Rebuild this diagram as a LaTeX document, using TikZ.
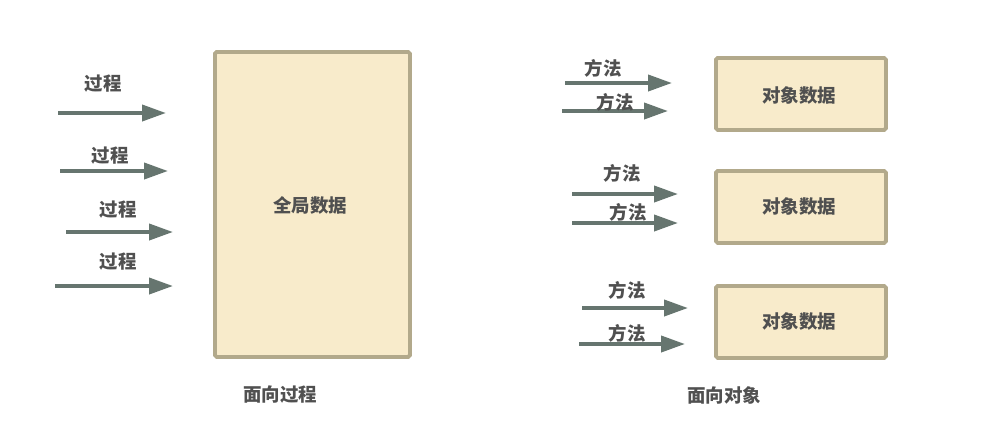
\documentclass[tikz,border=0pt]{standalone}
\usepackage{fontspec}
\newfontfamily\cjk{Noto Sans CJK SC}
\usetikzlibrary{arrows.meta}
\definecolor{boxfill}{HTML}{F8EBCB}
\definecolor{boxline}{HTML}{B2A98B}
\definecolor{arrowgray}{HTML}{66756F}
\definecolor{textgray}{HTML}{505050}
\begin{document}
\begin{tikzpicture}[x=0.02cm,y=-0.02cm,
    every node/.style={font=\cjk\bfseries\fontsize{10.5}{12}\selectfont,text=textgray,inner sep=0pt},
    databox/.style={draw=boxline,fill=boxfill,line width=2.2pt,rounded corners=1pt,anchor=north west}]

        \useasboundingbox (0,0) rectangle (1006,437);

        % 面向过程
        \node[databox,minimum width=195*0.02cm,minimum height=305*0.02cm] (global) at (213,50) {};
        \node (globaltext) at (310,205) {全局数据};
        \node (proccap) at (280,395) {面向过程};

        % 面向对象
        \begin{scope}[every node/.append style={databox,minimum width=170*0.02cm,minimum height=72*0.02cm}]
          \node (obj1) at (714,56)  {};
          \node (obj2) at (714,169) {};
          \node (obj3) at (714,284) {};
        \end{scope}
        \node (objtext1) at (799,95)  {对象数据};
        \node (objtext2) at (799,206) {对象数据};
        \node (objtext3) at (799,321) {对象数据};
        \node (objcap) at (724,395) {面向对象};

        % arrow ends
        \coordinate (p1s) at (58,113);  \coordinate (p1e) at (166,113);
        \coordinate (p2s) at (60,171);  \coordinate (p2e) at (168,171);
        \coordinate (p3s) at (66,232);  \coordinate (p3e) at (173,232);
        \coordinate (p4s) at (55,286);  \coordinate (p4e) at (173,286);
        \coordinate (m1s) at (565,83);  \coordinate (m1e) at (672,83);
        \coordinate (m2s) at (562,111); \coordinate (m2e) at (668,111);
        \coordinate (m3s) at (572,194); \coordinate (m3e) at (678,194);
        \coordinate (m4s) at (572,223); \coordinate (m4e) at (678,223);
        \coordinate (m5s) at (582,308); \coordinate (m5e) at (688,308);
        \coordinate (m6s) at (579,344); \coordinate (m6e) at (685,344);

        \begin{scope}[every edge/.style={draw=arrowgray,line width=2.2pt,-{Triangle[length=0.48cm,width=0.32cm]}}]
          \path (p1s) edge (p1e);
          \path (p2s) edge (p2e);
          \path (p3s) edge (p3e);
          \path (p4s) edge (p4e);
          \path (m1s) edge (m1e);
          \path (m2s) edge (m2e);
          \path (m3s) edge (m3e);
          \path (m4s) edge (m4e);
          \path (m5s) edge (m5e);
          \path (m6s) edge (m6e);
        \end{scope}

        \node (proc1) at (103,84)  {过程};
        \node (proc2) at (110,156) {过程};
        \node (proc3) at (118,210) {过程};
        \node (proc4) at (118,262) {过程};
        \node (meth1) at (603,68)  {方法};
        \node (meth2) at (615,102) {方法};
        \node (meth3) at (622,173) {方法};
        \node (meth4) at (628,212) {方法};
        \node (meth5) at (627,290) {方法};
        \node (meth6) at (627,333) {方法};

      \end{tikzpicture}
\end{document}
